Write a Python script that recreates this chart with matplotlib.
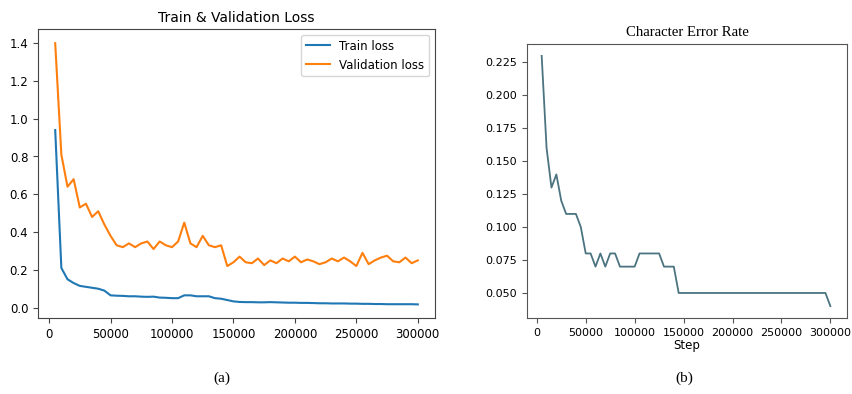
import matplotlib
matplotlib.use("Agg")
import matplotlib.pyplot as plt

steps = list(range(5000, 300001, 5000))

train_loss = [0.94, 0.21, 0.15, 0.13, 0.115, 0.11, 0.105, 0.10, 0.09, 0.065,
              0.063, 0.062, 0.06, 0.06, 0.058, 0.057, 0.058, 0.053, 0.052, 0.05,
              0.05, 0.065, 0.065, 0.06, 0.06, 0.06, 0.05, 0.047, 0.04, 0.033,
              0.03, 0.029, 0.029, 0.028, 0.028, 0.029, 0.028, 0.027, 0.026, 0.026,
              0.025, 0.025, 0.024, 0.023, 0.023, 0.022, 0.022, 0.022, 0.021, 0.021,
              0.020, 0.020, 0.019, 0.019, 0.018, 0.018, 0.018, 0.018, 0.018, 0.017]

val_loss = [1.40, 0.81, 0.64, 0.68, 0.53, 0.55, 0.48, 0.51, 0.44, 0.38,
            0.33, 0.32, 0.34, 0.32, 0.34, 0.35, 0.31, 0.35, 0.33, 0.32,
            0.35, 0.45, 0.34, 0.32, 0.38, 0.33, 0.32, 0.33, 0.22, 0.24,
            0.27, 0.24, 0.235, 0.26, 0.225, 0.25, 0.235, 0.26, 0.245, 0.27,
            0.24, 0.255, 0.245, 0.23, 0.24, 0.26, 0.245, 0.265, 0.245, 0.22,
            0.29, 0.23, 0.25, 0.265, 0.275, 0.245, 0.24, 0.265, 0.235, 0.25]

cer = [0.23, 0.16, 0.13, 0.14, 0.12, 0.11, 0.11, 0.11, 0.10, 0.08,
       0.08, 0.07, 0.08, 0.07, 0.08, 0.08, 0.07, 0.07, 0.07, 0.07,
       0.08, 0.08, 0.08, 0.08, 0.08, 0.07, 0.07, 0.07, 0.05, 0.05,
       0.05, 0.05, 0.05, 0.05, 0.05, 0.05, 0.05, 0.05, 0.05, 0.05,
       0.05, 0.05, 0.05, 0.05, 0.05, 0.05, 0.05, 0.05, 0.05, 0.05,
       0.05, 0.05, 0.05, 0.05, 0.05, 0.05, 0.05, 0.05, 0.05, 0.04]

fig = plt.figure(figsize=(8.53, 3.94), dpi=100)

# (a) loss curves
ax1 = fig.add_axes([38 / 853, 1 - 318 / 394, 397 / 853, 289 / 394])
ax1.plot(steps, train_loss, color="#1f77b4", lw=1.5, label="Train loss")
ax1.plot(steps, val_loss, color="#ff7f0e", lw=1.5, label="Validation loss")
ax1.set_title("Train & Validation Loss", fontsize=10, pad=5)
ax1.set_yticks([0.0, 0.2, 0.4, 0.6, 0.8, 1.0, 1.2, 1.4])
ax1.set_xticks([0, 50000, 100000, 150000, 200000, 250000, 300000])
ax1.set_xlim(-9000, 314000)
ax1.set_ylim(-0.055, 1.475)
ax1.tick_params(labelsize=8.5, color="#444444")
for s in ax1.spines.values():
    s.set_color("#444444")
ax1.legend(loc="upper right", fontsize=8.5)

# (b) character error rate
ax2 = fig.add_axes([527 / 853, 1 - 318 / 394, 320 / 853, 274 / 394])
ax2.plot(steps, cer, color="#4b7480", lw=1.3)
ax2.set_title("Character Error Rate", fontsize=10.6, family="Liberation Serif", pad=6)
ax2.set_xlabel("Step", fontsize=8.5, labelpad=1)
ax2.set_yticks([0.050, 0.075, 0.100, 0.125, 0.150, 0.175, 0.200, 0.225])
ax2.set_yticklabels(["0.050", "0.075", "0.100", "0.125", "0.150", "0.175", "0.200", "0.225"])
ax2.set_xticks([0, 50000, 100000, 150000, 200000, 250000, 300000])
ax2.set_xlim(-10000, 317000)
ax2.set_ylim(0.031, 0.239)
ax2.tick_params(labelsize=8, color="#555555")
for s in ax2.spines.values():
    s.set_color("#555555")

fig.text(222 / 853, 1 - 378 / 394, "(a)", ha="center", va="center",
         fontsize=11, family="Liberation Serif")
fig.text(684 / 853, 1 - 378 / 394, "(b)", ha="center", va="center",
         fontsize=11, family="Liberation Serif")

fig.savefig("out.png", dpi=100)
